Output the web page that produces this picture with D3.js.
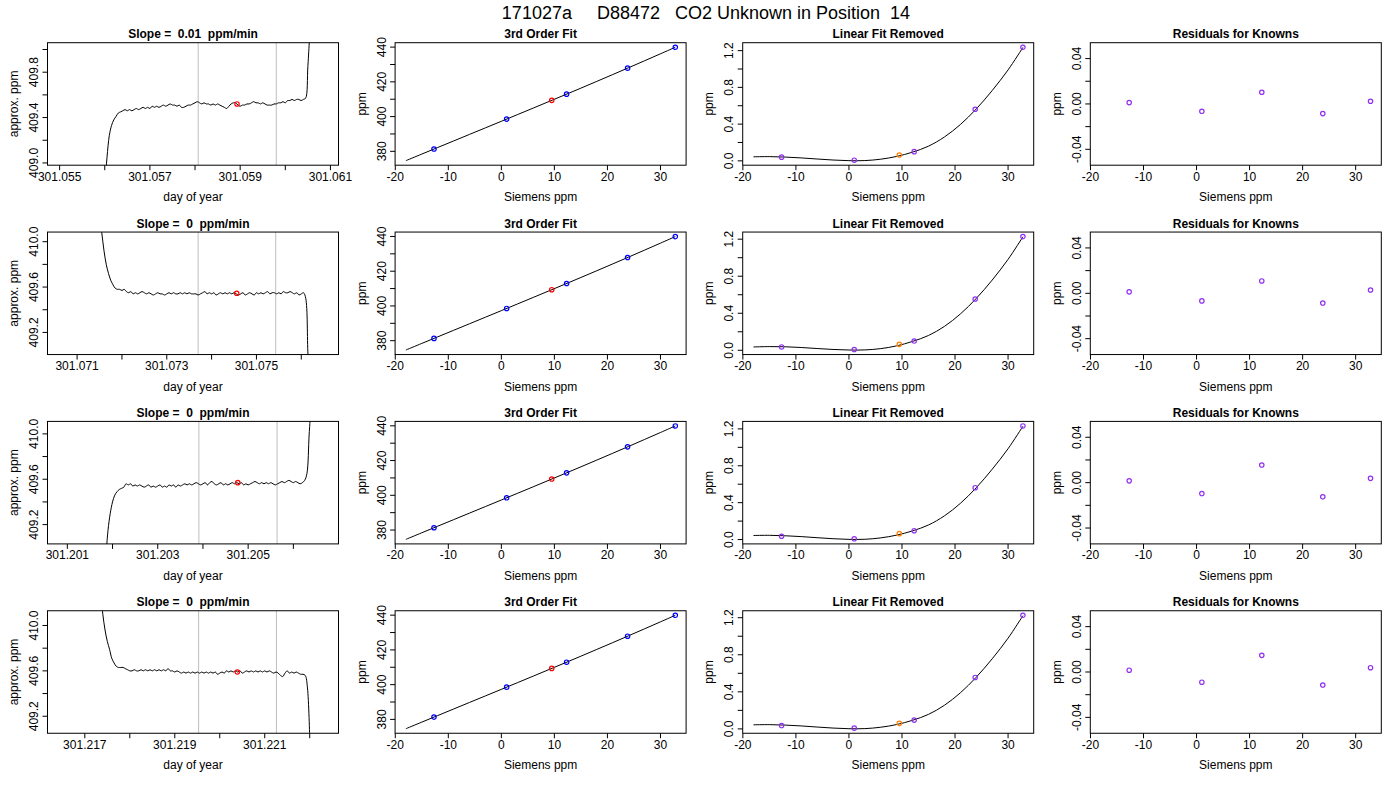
<!DOCTYPE html>
<html><head><meta charset="utf-8">
<script src="https://cdn.jsdelivr.net/npm/d3@7"></script>
<style>
body{margin:0;background:#fff}
svg text{font-family:"Liberation Sans",Arial,Helvetica,sans-serif;white-space:pre;fill:#000}
</style>
</head><body>
<svg id="chart" width="1400" height="800"></svg>
<script>
// ---------------- DATA ----------------
const mainTitle = "171027a     D88472   CO2 Unknown in Position  14";
const slopeValues = ["0.01", "0", "0", "0"];

// raw analyzer traces (regular sampling)
const traceStart = [301.05600, 301.07150, 301.20185, 301.21735];
const traceStep = 0.00005;
const trace1 = [408.80,409.05,409.24,409.33,409.38,409.41,409.44,409.45,409.46,409.47,
 409.46,409.47,409.46,409.47,409.48,409.47,409.48,409.49,409.48,409.49,
 409.48,409.50,409.49,409.50,409.49,409.50,409.51,409.50,409.51,409.52,
 409.51,409.51,409.50,409.51,409.49,409.49,409.50,409.51,409.51,409.52,
 409.53,409.54,409.53,409.52,409.53,409.52,409.52,409.51,409.52,409.51,
 409.52,409.51,409.50,409.49,409.48,409.50,409.52,409.53,409.53,409.51,
 409.50,409.51,409.51,409.52,409.52,409.53,409.54,409.53,409.53,409.52,
 409.53,409.52,409.51,409.51,409.51,409.52,409.52,409.53,409.53,409.54,
 409.53,409.55,409.55,409.56,409.55,409.56,409.56,409.55,409.56,409.57,
 409.85,410.20];
const trace2 = [410.25,410.08,409.92,409.80,409.72,409.66,409.62,409.59,409.58,409.58,
 409.57,409.58,409.56,409.55,409.56,409.54,409.55,409.54,409.55,409.56,
 409.55,409.54,409.55,409.54,409.53,409.54,409.55,409.54,409.54,409.53,
 409.54,409.55,409.54,409.55,409.54,409.54,409.55,409.54,409.55,409.54,
 409.55,409.54,409.54,409.54,409.53,409.54,409.55,409.56,409.54,409.55,
 409.54,409.55,409.53,409.54,409.55,409.54,409.55,409.54,409.55,409.54,
 409.55,409.54,409.53,409.54,409.55,409.53,409.54,409.55,409.54,409.53,
 409.55,409.54,409.55,409.54,409.55,409.56,409.54,409.55,409.55,409.54,
 409.55,409.54,409.56,409.55,409.55,409.56,409.55,409.54,409.55,409.53,
 409.54,409.55,409.50,409.00,408.70];
const trace3 = [408.90,409.15,409.30,409.40,409.46,409.49,409.51,409.52,409.53,409.56,
 409.55,409.56,409.54,409.55,409.54,409.55,409.54,409.53,409.54,409.55,
 409.53,409.54,409.53,409.54,409.55,409.53,409.54,409.53,409.55,409.54,
 409.55,409.53,409.55,409.54,409.55,409.56,409.55,409.56,409.55,409.56,
 409.57,409.56,409.55,409.56,409.57,409.55,409.57,409.58,409.56,409.55,
 409.56,409.57,409.55,409.56,409.55,409.56,409.57,409.56,409.57,409.56,
 409.57,409.55,409.56,409.55,409.56,409.57,409.58,409.57,409.56,409.57,
 409.56,409.57,409.56,409.57,409.56,409.55,409.56,409.57,409.58,409.57,
 409.58,409.59,409.58,409.57,409.58,409.57,409.56,409.57,409.59,409.65,
 410.00,410.30];
const trace4 = [410.30,410.10,409.96,409.86,409.79,409.71,409.67,409.64,409.63,409.63,
 409.63,409.62,409.61,409.60,409.60,409.61,409.60,409.60,409.61,409.60,
 409.61,409.60,409.61,409.60,409.61,409.60,409.61,409.60,409.61,409.60,
 409.62,409.60,409.60,409.59,409.60,409.59,409.58,409.59,409.58,409.59,
 409.58,409.59,409.58,409.59,409.58,409.59,409.58,409.59,409.58,409.59,
 409.58,409.59,409.57,409.58,409.59,409.58,409.60,409.59,409.60,409.59,
 409.60,409.59,409.60,409.58,409.59,409.60,409.59,409.60,409.59,409.60,
 409.59,409.60,409.59,409.60,409.59,409.60,409.59,409.58,409.59,409.58,
 409.56,409.55,409.58,409.60,409.58,409.59,409.58,409.59,409.58,409.57,
 409.57,409.56,409.45,409.00];
const traces = [trace1, trace2, trace3, trace4];

const windowStart = [301.05497, 301.07058, 301.20080, 301.21641];
const windowEnd   = [301.06094, 301.07659, 301.20676, 301.22240];
const integStart  = [301.05807, 301.07370, 301.20391, 301.21953];
const integEnd    = [301.05980, 301.07543, 301.20564, 301.22126];
const unknownTime = [301.05893, 301.07456, 301.20477, 301.22039];
const unknownPpm  = [409.52, 409.545, 409.57, 409.59];

// calibration
const knownSiemens = [-12.7, 1.0, 12.3, 23.8, 32.8];
const knownPpm     = [381.31, 398.57, 412.92, 427.90, 439.93];
const unknownSiemens = 9.5;
const unknownFitPpm  = 409.35;
const fitSiemens = [-18,-15,-12,-9,-6,-3,0,3,6,9,12,15,18,21,24,27,30,32.8];
const fitPpm = [374.63,378.42,382.20,385.97,389.75,393.52,397.30,401.09,404.89,
 408.71,412.54,416.39,420.28,424.20,428.15,432.14,436.15,439.93];

// linear fit removed
const linRemovedKnown = [
  [0.040, 0.007, 0.100, 0.561, 1.237],
  [0.036, 0.008, 0.100, 0.554, 1.228],
  [0.036, 0.008, 0.096, 0.562, 1.232],
  [0.036, 0.008, 0.095, 0.555, 1.226]];
const linRemovedUnknown = [0.063, 0.064, 0.064, 0.060];
const linRemovedCurve = [
  [0.044,0.046,0.041,0.032,0.020,0.009,0.002,0.003,0.018,0.048,0.095,0.160,0.260,0.395,0.565,0.765,0.990,1.235],
  [0.036,0.040,0.038,0.030,0.019,0.009,0.003,0.004,0.018,0.048,0.096,0.160,0.258,0.392,0.560,0.758,0.982,1.226],
  [0.044,0.046,0.041,0.032,0.020,0.009,0.002,0.003,0.018,0.048,0.094,0.158,0.257,0.392,0.562,0.762,0.985,1.229],
  [0.044,0.046,0.041,0.032,0.020,0.009,0.002,0.003,0.018,0.047,0.093,0.157,0.255,0.389,0.558,0.756,0.979,1.222]];

// residuals
const residuals = [
  [0.0012, -0.0065, 0.0103, -0.0085, 0.0024],
  [0.0013, -0.0067, 0.0109, -0.0086, 0.0029],
  [0.0016, -0.0096, 0.0155, -0.0125, 0.0038],
  [0.0016, -0.0090, 0.0147, -0.0115, 0.0038]];
const residualLimits = [-0.05, 0.05];
const traceHalfRange = 0.5;

// ---------------- LAYOUT ----------------
const svg = d3.select("#chart");
const W = 291, H = 122.5;
const colX = [47.5, 395.1, 742.7, 1090.3];
const rowY = [42.7, 232.05, 421.4, 610.75];
const purple = "#9030f5", blue = "#0000ff", red = "#ff0000", orange = "#ff8000";
const R = 2.2;

function pad(lo, hi) { const d = (hi - lo) * 0.04; return [lo - d, hi + d]; }
function fix(n) { return d => (Math.abs(d) < 1e-12 ? 0 : d).toFixed(n); }

svg.append("text").attr("x", 706).attr("y", 19).attr("text-anchor", "middle")
  .style("font-size", "18px").text(mainTitle);

let clipId = 0;
function panel(col, row, xDom, yDom, cfg) {
  const g = svg.append("g").attr("transform", `translate(${colX[col]},${rowY[row]})`);
  const x = d3.scaleLinear().domain(xDom).range([0, W]);
  const y = d3.scaleLinear().domain(yDom).range([H, 0]);
  const id = "clip" + (clipId++);
  g.append("clipPath").attr("id", id).append("rect").attr("width", W).attr("height", H);
  const plot = g.append("g").attr("clip-path", `url(#${id})`);
  const xt = x.ticks(cfg.xn);
  xt.forEach((t, i) => {
    const px = x(t);
    g.append("line").attr("x1", px).attr("x2", px).attr("y1", H).attr("y2", H + 5)
      .attr("stroke", "#000").attr("stroke-width", 1);
    if (i % cfg.xEvery === 0)
      g.append("text").attr("x", px).attr("y", H + 15.5).attr("text-anchor", "middle")
        .style("font-size", "12px").text(cfg.xf(t));
  });
  const yt = y.ticks(cfg.yn);
  yt.forEach((t, i) => {
    const py = y(t);
    g.append("line").attr("x1", -5).attr("x2", 0).attr("y1", py).attr("y2", py)
      .attr("stroke", "#000").attr("stroke-width", 1);
    if (i % cfg.yEvery === 0)
      g.append("text").attr("transform", `translate(-9.5,${py}) rotate(-90)`)
        .attr("text-anchor", "middle").style("font-size", "12px").text(cfg.yf(t));
  });
  g.append("rect").attr("width", W).attr("height", H).attr("fill", "none")
    .attr("stroke", "#000").attr("stroke-width", 1);
  g.append("text").attr("x", W / 2).attr("y", -4.5).attr("text-anchor", "middle")
    .style("font-size", "12px").style("font-weight", "bold").text(cfg.title);
  g.append("text").attr("x", W / 2).attr("y", H + 36).attr("text-anchor", "middle")
    .style("font-size", "12px").text(cfg.xlab);
  g.append("text").attr("transform", `translate(-29.5,${H / 2}) rotate(-90)`)
    .attr("text-anchor", "middle").style("font-size", "12px").text(cfg.ylab);
  return { g, plot, x, y };
}

function circles(p, xs, ys, color) {
  p.plot.selectAll(null).data(xs.map((v, i) => [v, ys[i]])).enter().append("circle")
    .attr("cx", d => p.x(d[0])).attr("cy", d => p.y(d[1])).attr("r", R)
    .attr("fill", "none").attr("stroke", color).attr("stroke-width", 1.2);
}

const curve = d3.curveCatmullRom.alpha(0.5);

for (let r = 0; r < 4; r++) {
  // ---- column 1: trace ----
  const xd = pad(windowStart[r], windowEnd[r]);
  const yd = pad(unknownPpm[r] - traceHalfRange, unknownPpm[r] + traceHalfRange);
  const p1 = panel(0, r, xd, yd, {
    xn: 7, yn: 6, xEvery: 2, yEvery: 2, xf: fix(3), yf: fix(1),
    title: "Slope =  " + slopeValues[r] + "  ppm/min", xlab: "day of year", ylab: "approx. ppm"
  });
  [integStart[r], integEnd[r]].forEach(t => {
    p1.plot.append("line").attr("x1", p1.x(t)).attr("x2", p1.x(t)).attr("y1", 0).attr("y2", H)
      .attr("stroke", "#bebebe").attr("stroke-width", 1);
  });
  const pts = traces[r].map((v, i) => [traceStart[r] + i * traceStep, v]);
  p1.plot.append("path").datum(pts)
    .attr("d", d3.line().x(d => p1.x(d[0])).y(d => p1.y(d[1])).curve(curve))
    .attr("fill", "none").attr("stroke", "#000").attr("stroke-width", 1);
  circles(p1, [unknownTime[r]], [unknownPpm[r]], red);

  // ---- column 2: 3rd order fit ----
  const sx = pad(d3.min(fitSiemens), d3.max(fitSiemens));
  const p2 = panel(1, r, sx, pad(d3.min(fitPpm), d3.max(fitPpm)), {
    xn: 6, yn: 7, xEvery: 1, yEvery: 2, xf: fix(0), yf: fix(0),
    title: "3rd Order Fit", xlab: "Siemens ppm", ylab: "ppm"
  });
  p2.plot.append("path").datum(fitSiemens.map((v, i) => [v, fitPpm[i]]))
    .attr("d", d3.line().x(d => p2.x(d[0])).y(d => p2.y(d[1])).curve(curve))
    .attr("fill", "none").attr("stroke", "#000").attr("stroke-width", 1);
  circles(p2, knownSiemens, knownPpm, blue);
  circles(p2, [unknownSiemens], [unknownFitPpm], red);

  // ---- column 3: linear fit removed ----
  const lc = linRemovedCurve[r];
  const p3 = panel(2, r, sx, pad(Math.min(d3.min(lc), d3.min(linRemovedKnown[r])), Math.max(d3.max(lc), d3.max(linRemovedKnown[r]))), {
    xn: 6, yn: 7, xEvery: 1, yEvery: 2, xf: fix(0), yf: fix(1),
    title: "Linear Fit Removed", xlab: "Siemens ppm", ylab: "ppm"
  });
  p3.plot.append("path").datum(fitSiemens.map((v, i) => [v, lc[i]]))
    .attr("d", d3.line().x(d => p3.x(d[0])).y(d => p3.y(d[1])).curve(curve))
    .attr("fill", "none").attr("stroke", "#000").attr("stroke-width", 1);
  circles(p3, knownSiemens, linRemovedKnown[r], purple);
  circles(p3, [unknownSiemens], [linRemovedUnknown[r]], orange);

  // ---- column 4: residuals ----
  const p4 = panel(3, r, sx, pad(residualLimits[0], residualLimits[1]), {
    xn: 6, yn: 5, xEvery: 1, yEvery: 2, xf: fix(0), yf: fix(2),
    title: "Residuals for Knowns", xlab: "Siemens ppm", ylab: "ppm"
  });
  circles(p4, knownSiemens, residuals[r], purple);
}
</script>
</body></html>
